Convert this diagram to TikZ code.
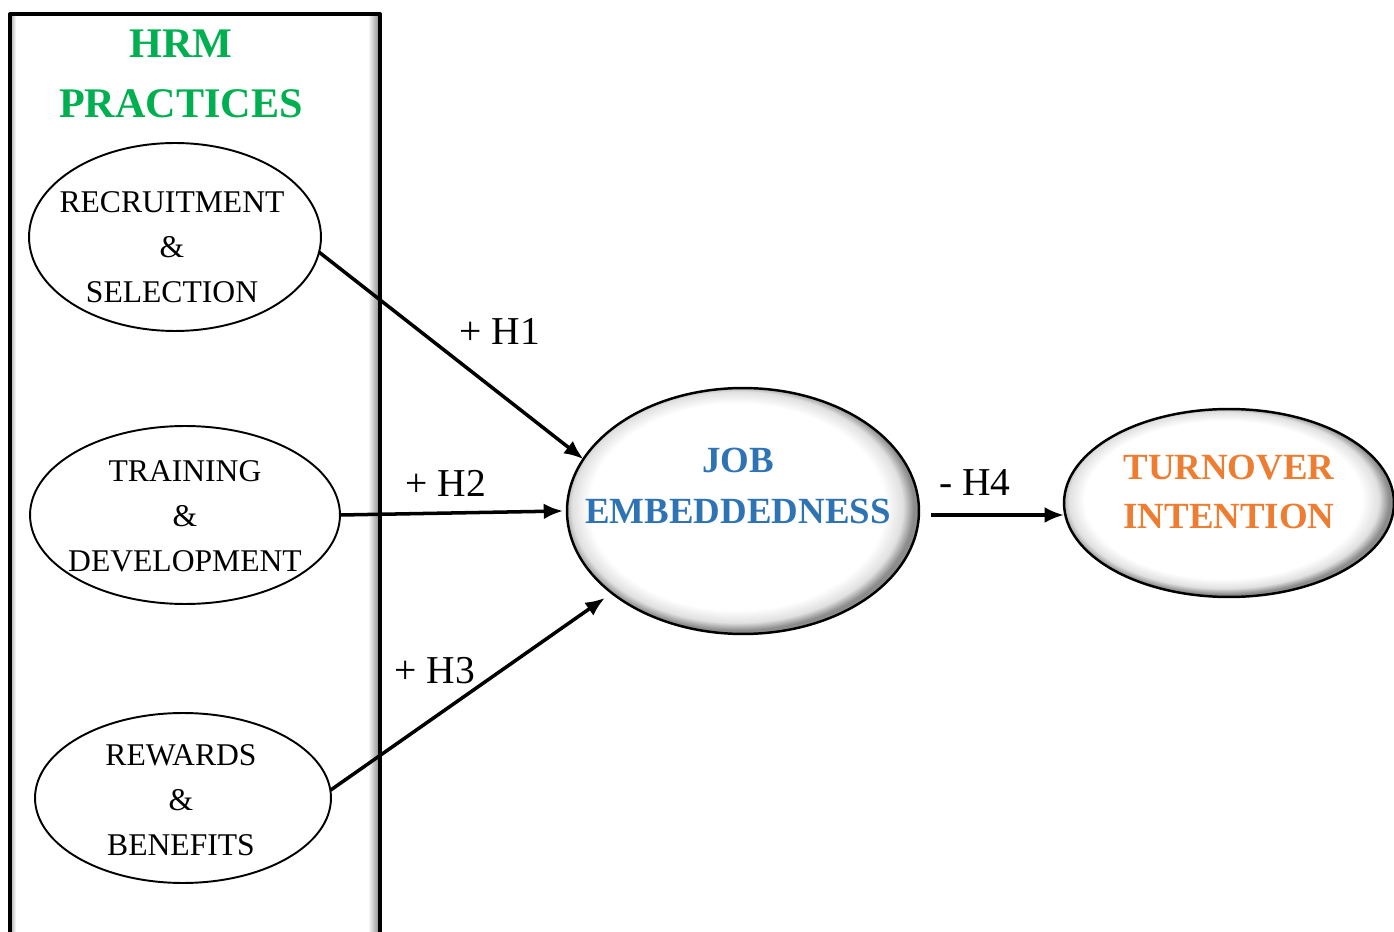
\documentclass[tikz,border=0pt]{standalone}
\usepackage{fontspec}
\setmainfont{Liberation Serif}
\usetikzlibrary{shapes.geometric,arrows.meta}
\definecolor{hrmgreen}{RGB}{0,176,80}
\definecolor{jeblue}{RGB}{46,116,181}
\definecolor{tiorange}{RGB}{237,125,49}
\pgfdeclareradialshading{bevel}{\pgfpoint{-1.5bp}{1.5bp}}{color(0bp)=(white); color(21bp)=(white); color(23.5bp)=(black!12); color(25bp)=(black!45); color(50bp)=(black!45)}
\tikzset{
  oval/.style={ellipse, draw, line width=1.1pt, inner sep=0pt, outer sep=0pt},
  bigoval/.style={oval, line width=1.4pt, shade, shading=bevel},
  txt/.style={align=center, font=\fontsize{18}{25.6}\selectfont},
  hyp/.style={font=\fontsize{22.5}{26}\selectfont},
  arr/.style={->, line width=2pt}
}
\begin{document}
\begin{tikzpicture}[x=0.02cm, y=-0.02cm, line join=round, >={Latex[length=11pt,width=9pt]}]
\useasboundingbox (0,0) rectangle (1394,932);
% HRM practices box
\shade[left color=white, right color=black!45] (368,16) rectangle (379,960);
\shade[left color=black!30, right color=white] (11,16) rectangle (16,960);
\draw[line width=2.3pt] (10,14) rectangle (380,960);
\node[align=center, text=hrmgreen, font=\fontsize{24}{34}\selectfont\bfseries] (hrm) at (181,74) {HRM\\PRACTICES};
% practices
\node[oval, minimum width=5.84cm, minimum height=3.76cm] (rs) at (175,237) {};
\node[txt] (rstxt) at (172,247) {RECRUITMENT\\\&\\SELECTION};
\node[oval, minimum width=6.2cm, minimum height=3.56cm] (td) at (185,515) {};
\node[txt] (tdtxt) at (185,516) {TRAINING\\\&\\DEVELOPMENT};
\node[oval, minimum width=5.92cm, minimum height=3.4cm] (rb) at (183,798) {};
\node[txt] (rbtxt) at (181,800) {REWARDS\\\&\\BENEFITS};
% mediator and outcome
\node[bigoval, minimum width=7.04cm, minimum height=4.92cm] (je) at (743,511) {};
\node[align=center, text=jeblue, font=\fontsize{21}{29}\selectfont\bfseries] (jetxt) at (738,486) {JOB\\EMBEDDEDNESS};
\node[bigoval, minimum width=6.6cm, minimum height=3.76cm] (ti) at (1229,503) {};
\node[align=center, text=tiorange, font=\fontsize{21}{28}\selectfont\bfseries] (titxt) at (1229,492) {TURNOVER\\INTENTION};
% hypotheses
\draw[arr] (rs.-6) -- (je.162);
\draw[arr] (td.east) -- ([xshift=-0.08cm]je.west);
\draw[arr] (rb.3) -- ([shift={(-0.14cm,-0.1cm)}]je.212);
\draw[arr] ([shift={(0.24cm,-0.08cm)}]je.east) -- ([yshift=-0.08cm]je.east -| ti.west);
\node[hyp] (h1) at (500,331) {+ H1};
\node[hyp] (h2) at (446,483) {+ H2};
\node[hyp] (h3) at (435,671) {+ H3};
\node[hyp] (h4) at (975,482) {- H4};
\end{tikzpicture}
\end{document}
